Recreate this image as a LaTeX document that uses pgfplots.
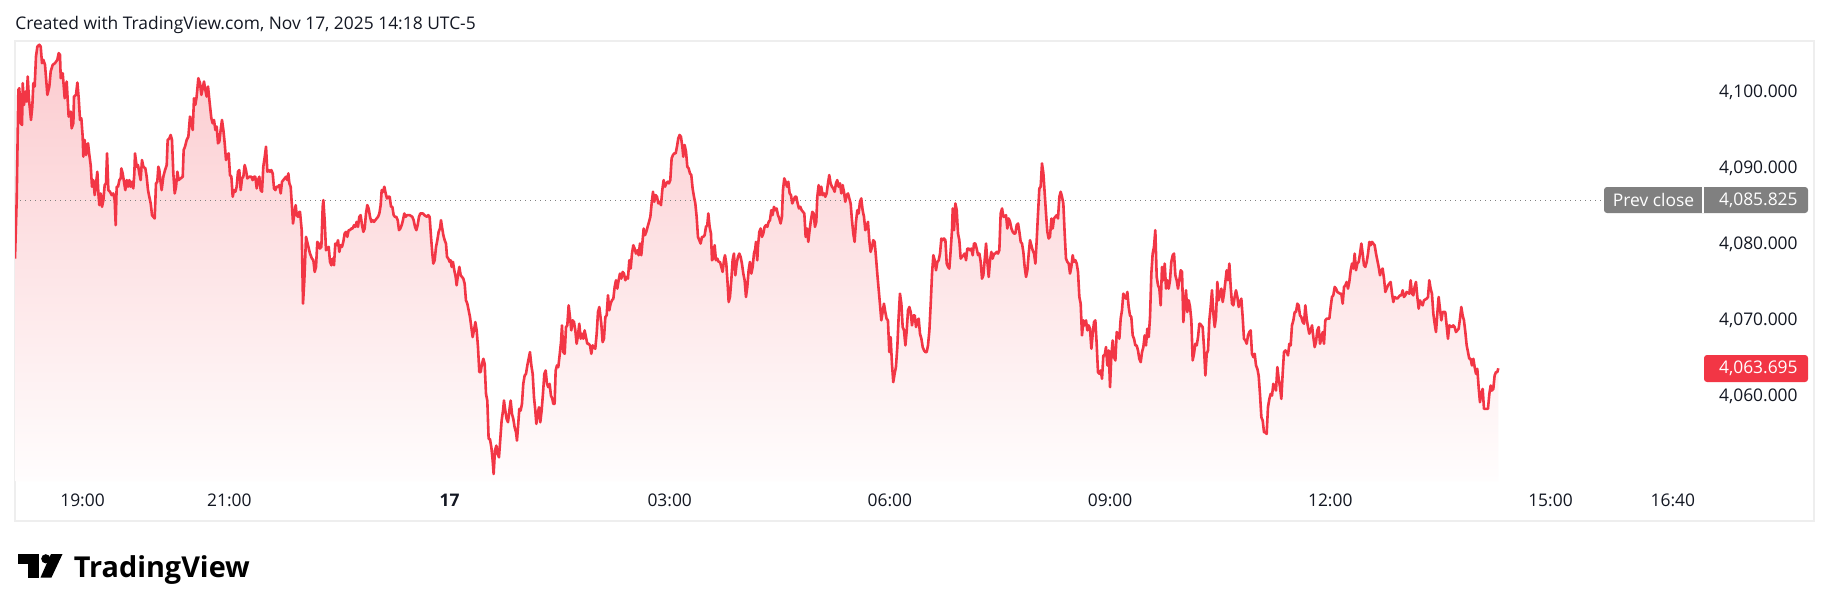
\documentclass[border=0pt]{standalone}
\usepackage{fontspec}
\setmainfont{Open Sans}
\usepackage{pgfplots}
\pgfplotsset{compat=1.18}
\usepackage{pgfplotstable}
\definecolor{tvred}{HTML}{F23645}
\definecolor{tvtext}{HTML}{131722}
\definecolor{tvgray}{HTML}{808080}
\definecolor{framegray}{HTML}{EEEEEE}
\pgfplotstableread{
t v
0.080 4078.15
0.103 4085.85
0.126 4100.37
0.139 4100.59
0.158 4095.97
0.176 4095.75
0.185 4101.25
0.203 4098.39
0.221 4100.15
0.239 4098.83
0.253 4102.13
0.271 4099.05
0.298 4096.41
0.316 4098.17
0.330 4101.25
0.348 4100.81
0.366 4104.77
0.385 4106.09
0.412 4106.31
0.430 4106.09
0.448 4103.89
0.466 4104.33
0.489 4103.67
0.521 4099.71
0.548 4100.81
0.566 4102.79
0.594 4103.67
0.625 4103.89
0.657 4104.33
0.675 4105.21
0.693 4104.99
0.703 4101.91
0.730 4102.57
0.757 4099.27
0.784 4101.47
0.811 4096.85
0.839 4097.51
0.852 4095.31
0.875 4095.97
0.884 4099.49
0.911 4099.71
0.930 4101.34
0.948 4099.27
0.966 4096.41
0.984 4096.63
1.002 4094.21
1.011 4091.57
1.029 4093.77
1.048 4091.79
1.075 4093.33
1.093 4091.79
1.111 4090.47
1.129 4087.61
1.148 4088.49
1.166 4086.51
1.184 4088.05
1.202 4089.59
1.216 4086.73
1.229 4085.19
1.247 4086.73
1.266 4084.97
1.284 4085.85
1.302 4087.83
1.320 4088.05
1.334 4092.01
1.352 4087.17
1.375 4086.95
1.397 4086.51
1.420 4086.73
1.438 4085.85
1.452 4082.55
1.465 4087.61
1.484 4087.61
1.502 4088.49
1.520 4088.71
1.529 4090.03
1.547 4089.37
1.565 4088.27
1.583 4087.17
1.602 4088.49
1.620 4087.61
1.638 4088.49
1.656 4087.61
1.674 4088.27
1.692 4087.39
1.706 4089.37
1.715 4092.01
1.738 4090.25
1.756 4090.47
1.774 4089.37
1.792 4088.49
1.810 4091.13
1.829 4090.25
1.856 4090.03
1.874 4088.93
1.892 4087.17
1.910 4086.29
1.929 4085.41
1.947 4083.87
1.965 4083.65
1.983 4083.43
2.001 4088.05
2.019 4088.27
2.033 4090.25
2.047 4089.81
2.060 4088.49
2.078 4087.17
2.101 4088.93
2.124 4089.81
2.147 4090.47
2.160 4093.77
2.183 4093.99
2.201 4094.43
2.219 4093.77
2.237 4089.37
2.256 4086.73
2.274 4087.61
2.292 4089.59
2.310 4088.49
2.337 4088.71
2.365 4088.93
2.378 4092.45
2.396 4092.89
2.419 4093.77
2.442 4094.21
2.464 4096.85
2.483 4095.97
2.501 4095.09
2.519 4099.27
2.537 4098.39
2.555 4099.49
2.578 4101.91
2.601 4101.25
2.619 4099.71
2.637 4100.59
2.655 4101.47
2.673 4100.37
2.691 4099.49
2.710 4100.81
2.728 4099.05
2.755 4096.63
2.773 4095.97
2.791 4096.41
2.810 4095.09
2.828 4095.53
2.846 4093.33
2.864 4093.55
2.882 4095.09
2.900 4096.41
2.919 4095.09
2.937 4093.33
2.955 4091.13
2.973 4091.79
2.991 4092.01
3.009 4089.15
3.028 4088.93
3.046 4086.29
3.064 4087.17
3.082 4086.95
3.100 4087.61
3.118 4089.59
3.136 4089.81
3.155 4087.17
3.173 4088.71
3.191 4088.93
3.209 4090.47
3.227 4089.81
3.245 4088.71
3.273 4088.93
3.300 4088.93
3.318 4088.49
3.336 4088.93
3.354 4088.93
3.373 4087.39
3.391 4088.49
3.409 4088.93
3.427 4087.17
3.445 4086.95
3.463 4090.25
3.486 4091.79
3.500 4092.89
3.518 4089.59
3.536 4089.81
3.554 4089.59
3.572 4089.81
3.591 4089.37
3.609 4087.39
3.627 4087.17
3.645 4087.61
3.663 4087.61
3.681 4087.83
3.700 4086.73
3.718 4088.27
3.736 4088.49
3.754 4088.71
3.772 4088.93
3.790 4088.49
3.804 4089.37
3.818 4088.05
3.836 4087.61
3.854 4084.97
3.868 4082.77
3.886 4084.09
3.904 4085.19
3.918 4083.87
3.936 4083.65
3.954 4084.31
3.963 4084.31
3.986 4081.89
4.004 4072.21
4.022 4075.29
4.045 4081.01
4.072 4079.91
4.099 4078.81
4.126 4078.15
4.145 4077.93
4.163 4076.39
4.181 4077.05
4.199 4080.35
4.217 4080.13
4.235 4079.47
4.254 4079.69
4.272 4084.97
4.281 4085.85
4.299 4083.21
4.317 4079.25
4.335 4079.47
4.354 4079.69
4.372 4077.71
4.390 4077.27
4.408 4078.15
4.426 4077.27
4.444 4080.13
4.463 4079.91
4.481 4080.57
4.499 4079.03
4.517 4079.91
4.535 4079.69
4.553 4080.35
4.571 4081.45
4.590 4081.67
4.608 4081.01
4.626 4081.89
4.644 4081.89
4.662 4082.11
4.680 4082.11
4.699 4082.55
4.717 4082.33
4.735 4082.99
4.753 4082.33
4.771 4083.65
4.789 4083.87
4.808 4082.55
4.826 4081.67
4.844 4082.11
4.862 4084.09
4.880 4085.19
4.898 4084.75
4.917 4083.65
4.935 4082.99
4.953 4083.21
4.971 4082.99
4.989 4083.21
5.007 4083.43
5.026 4083.65
5.044 4084.09
5.062 4085.19
5.076 4087.17
5.094 4086.95
5.112 4087.61
5.130 4086.73
5.148 4086.07
5.166 4086.29
5.185 4086.29
5.203 4084.97
5.221 4084.97
5.239 4083.87
5.257 4083.65
5.275 4083.65
5.294 4083.21
5.312 4081.89
5.330 4082.11
5.348 4082.55
5.366 4083.21
5.384 4084.09
5.403 4083.65
5.421 4083.87
5.457 4083.87
5.493 4083.65
5.511 4083.21
5.530 4082.33
5.548 4081.89
5.566 4082.55
5.584 4083.65
5.602 4084.09
5.639 4084.09
5.657 4083.87
5.693 4083.65
5.711 4083.87
5.729 4083.65
5.748 4081.01
5.766 4078.81
5.779 4077.49
5.798 4077.93
5.816 4079.69
5.834 4080.57
5.852 4081.67
5.870 4082.11
5.884 4083.21
5.897 4082.33
5.916 4081.23
5.934 4080.57
5.952 4080.13
5.966 4078.37
5.984 4078.15
6.002 4077.71
6.016 4077.93
6.029 4077.05
6.047 4077.71
6.065 4076.61
6.084 4075.73
6.097 4074.63
6.115 4075.95
6.134 4077.05
6.152 4075.95
6.170 4075.73
6.188 4075.51
6.206 4074.85
6.224 4072.65
6.243 4072.21
6.261 4071.33
6.279 4070.45
6.297 4069.13
6.315 4067.81
6.333 4068.69
6.352 4069.79
6.370 4068.69
6.388 4066.49
6.406 4063.19
6.424 4063.19
6.442 4064.29
6.461 4064.95
6.479 4064.29
6.497 4060.33
6.515 4059.45
6.533 4054.39
6.551 4054.39
6.570 4053.29
6.588 4051.53
6.601 4049.77
6.619 4052.85
6.638 4053.51
6.656 4052.41
6.674 4051.97
6.692 4054.39
6.710 4056.81
6.729 4058.13
6.742 4059.45
6.760 4058.13
6.778 4057.03
6.797 4056.59
6.815 4058.13
6.833 4059.45
6.851 4057.69
6.869 4057.03
6.887 4055.93
6.906 4055.27
6.919 4054.17
6.933 4055.93
6.951 4058.35
6.969 4058.13
6.987 4059.01
7.005 4061.65
7.024 4062.75
7.042 4062.97
7.060 4064.07
7.078 4064.95
7.096 4065.83
7.115 4064.07
7.133 4062.97
7.151 4059.89
7.169 4058.13
7.183 4056.37
7.201 4057.69
7.219 4058.57
7.237 4056.59
7.255 4058.13
7.273 4060.33
7.292 4062.97
7.310 4063.41
7.328 4061.65
7.346 4061.21
7.364 4061.65
7.382 4060.11
7.401 4059.67
7.414 4059.01
7.432 4059.01
7.446 4063.41
7.464 4064.07
7.482 4063.85
7.500 4065.39
7.519 4067.15
7.532 4069.35
7.550 4065.83
7.569 4065.61
7.587 4069.13
7.605 4069.35
7.623 4071.99
7.641 4070.45
7.659 4068.69
7.678 4070.01
7.696 4069.79
7.714 4068.69
7.732 4066.93
7.750 4068.03
7.768 4069.57
7.787 4067.59
7.805 4068.25
7.823 4067.59
7.841 4068.69
7.859 4067.81
7.877 4066.93
7.896 4066.93
7.914 4066.71
7.932 4065.61
7.950 4066.71
7.968 4066.49
7.986 4066.27
8.005 4068.25
8.023 4071.11
8.041 4071.77
8.068 4069.57
8.086 4067.15
8.104 4067.59
8.123 4070.45
8.141 4070.67
8.159 4073.31
8.177 4071.33
8.195 4072.21
8.213 4072.65
8.232 4072.87
8.250 4074.41
8.268 4075.29
8.286 4074.19
8.304 4075.29
8.322 4076.17
8.341 4075.51
8.359 4076.39
8.377 4076.17
8.395 4075.29
8.413 4075.73
8.431 4075.51
8.450 4077.93
8.468 4076.83
8.486 4078.81
8.504 4079.91
8.522 4079.47
8.540 4078.81
8.559 4079.25
8.577 4078.59
8.595 4080.13
8.613 4078.59
8.631 4080.57
8.645 4082.11
8.663 4081.23
8.681 4081.67
8.699 4082.33
8.718 4082.99
8.736 4083.65
8.754 4085.41
8.772 4086.95
8.790 4085.63
8.808 4086.51
8.827 4086.29
8.845 4085.41
8.863 4085.63
8.881 4085.19
8.899 4087.17
8.917 4088.49
8.936 4087.61
8.954 4088.05
8.972 4088.27
8.990 4088.05
9.008 4088.49
9.026 4091.35
9.044 4091.79
9.063 4092.01
9.081 4092.01
9.099 4092.89
9.117 4093.99
9.135 4094.43
9.153 4094.21
9.172 4092.89
9.185 4091.57
9.203 4093.11
9.222 4092.23
9.240 4090.25
9.258 4090.03
9.276 4089.37
9.294 4089.15
9.312 4087.39
9.331 4086.29
9.349 4085.41
9.367 4083.65
9.385 4081.01
9.403 4080.57
9.421 4080.13
9.440 4081.01
9.458 4081.01
9.476 4081.23
9.494 4082.33
9.512 4082.55
9.526 4084.09
9.544 4082.33
9.562 4081.45
9.576 4077.93
9.594 4078.15
9.612 4079.91
9.630 4077.93
9.648 4078.15
9.667 4077.71
9.685 4077.71
9.703 4077.05
9.721 4076.39
9.739 4077.93
9.753 4078.59
9.771 4077.49
9.789 4074.85
9.803 4072.43
9.821 4073.09
9.839 4075.29
9.857 4077.93
9.875 4078.81
9.894 4075.95
9.912 4077.49
9.930 4078.37
9.948 4078.81
9.966 4078.37
9.984 4077.49
10.003 4076.17
10.021 4075.29
10.039 4073.09
10.057 4074.41
10.075 4076.61
10.093 4077.71
10.112 4076.17
10.130 4077.05
10.148 4078.81
10.166 4079.47
10.175 4080.35
10.193 4077.93
10.202 4079.69
10.221 4081.67
10.239 4082.11
10.257 4081.01
10.275 4081.45
10.293 4082.33
10.311 4082.55
10.330 4082.33
10.348 4082.99
10.366 4083.21
10.384 4084.53
10.402 4083.87
10.420 4084.97
10.439 4084.53
10.457 4084.75
10.475 4083.87
10.493 4083.43
10.511 4082.77
10.529 4083.65
10.543 4087.17
10.561 4088.71
10.579 4088.27
10.598 4087.61
10.616 4088.27
10.634 4086.73
10.652 4086.51
10.670 4085.41
10.688 4085.85
10.707 4086.29
10.725 4086.29
10.743 4085.41
10.761 4084.75
10.779 4084.97
10.797 4084.53
10.816 4084.31
10.834 4084.09
10.852 4081.01
10.870 4082.11
10.888 4080.35
10.906 4081.89
10.924 4083.21
10.943 4084.31
10.961 4084.09
10.979 4082.33
10.997 4082.99
11.011 4086.29
11.029 4087.83
11.047 4086.51
11.065 4087.61
11.083 4086.51
11.102 4086.73
11.120 4086.29
11.138 4086.73
11.156 4088.05
11.174 4089.15
11.192 4088.05
11.211 4087.61
11.229 4087.39
11.247 4086.95
11.265 4088.05
11.283 4088.49
11.301 4087.61
11.320 4088.05
11.338 4086.73
11.356 4087.83
11.374 4086.95
11.392 4085.63
11.410 4086.51
11.429 4086.73
11.447 4086.07
11.465 4085.41
11.483 4083.21
11.501 4081.45
11.519 4080.35
11.538 4082.99
11.556 4084.53
11.574 4084.09
11.592 4085.63
11.610 4086.07
11.628 4084.53
11.647 4083.65
11.665 4081.89
11.683 4082.33
11.701 4082.99
11.719 4080.57
11.737 4079.03
11.756 4079.69
11.774 4080.57
11.792 4080.35
11.810 4078.37
11.828 4076.17
11.846 4074.19
11.864 4072.21
11.883 4070.01
11.901 4071.11
11.919 4072.21
11.937 4071.11
11.955 4070.23
11.973 4070.01
11.992 4065.83
12.010 4067.81
12.028 4064.29
12.046 4061.87
12.064 4062.97
12.082 4063.85
12.101 4066.49
12.119 4070.45
12.137 4073.53
12.156 4072.21
12.174 4069.13
12.192 4068.69
12.211 4066.71
12.229 4068.69
12.247 4071.33
12.265 4071.77
12.283 4071.11
12.301 4069.35
12.320 4070.67
12.338 4070.67
12.356 4069.13
12.374 4070.01
12.392 4070.23
12.410 4068.25
12.429 4067.59
12.447 4066.49
12.465 4066.05
12.483 4065.83
12.501 4065.83
12.519 4066.71
12.538 4068.69
12.556 4072.21
12.574 4076.17
12.592 4078.59
12.610 4077.93
12.628 4076.61
12.647 4077.71
12.665 4077.93
12.683 4078.81
12.701 4080.79
12.719 4080.57
12.737 4080.79
12.756 4080.57
12.774 4077.49
12.792 4077.05
12.810 4076.83
12.828 4079.25
12.846 4081.89
12.856 4084.75
12.874 4081.89
12.892 4085.41
12.910 4084.53
12.928 4081.45
12.946 4080.57
12.964 4078.15
12.983 4078.37
13.001 4078.59
13.019 4078.81
13.037 4077.93
13.055 4079.47
13.073 4079.47
13.092 4079.25
13.110 4079.47
13.128 4078.59
13.146 4080.13
13.164 4080.13
13.182 4079.47
13.201 4078.59
13.219 4078.81
13.237 4077.71
13.255 4075.51
13.273 4075.95
13.291 4077.93
13.310 4080.13
13.328 4077.71
13.346 4075.73
13.364 4077.93
13.382 4079.03
13.400 4078.15
13.419 4078.81
13.437 4078.81
13.455 4079.03
13.473 4078.81
13.491 4079.25
13.509 4084.09
13.528 4084.75
13.546 4083.65
13.564 4083.65
13.582 4083.87
13.600 4082.11
13.618 4083.43
13.637 4082.99
13.655 4082.11
13.673 4081.67
13.691 4081.45
13.709 4081.45
13.727 4082.55
13.746 4082.77
13.764 4081.67
13.782 4080.35
13.800 4080.13
13.818 4079.03
13.836 4077.05
13.855 4075.73
13.873 4076.61
13.891 4078.81
13.909 4080.57
13.927 4079.91
13.945 4079.25
13.964 4078.81
13.982 4077.49
14.000 4080.57
14.018 4084.09
14.036 4087.39
14.054 4087.61
14.072 4090.69
14.091 4089.37
14.109 4086.73
14.127 4084.09
14.145 4081.67
14.163 4080.79
14.181 4081.01
14.200 4083.43
14.218 4082.11
14.236 4083.43
14.254 4083.65
14.272 4083.87
14.290 4083.43
14.309 4086.29
14.327 4086.95
14.345 4086.29
14.363 4085.41
14.381 4081.45
14.399 4078.15
14.418 4077.71
14.436 4077.49
14.454 4076.17
14.472 4077.05
14.490 4078.59
14.508 4077.71
14.527 4077.93
14.545 4077.49
14.563 4076.39
14.581 4073.09
14.599 4072.21
14.617 4068.03
14.636 4070.01
14.654 4069.35
14.672 4070.01
14.690 4068.69
14.708 4069.35
14.726 4068.91
14.745 4066.27
14.763 4068.25
14.781 4069.79
14.799 4070.01
14.817 4066.93
14.835 4063.19
14.854 4062.97
14.872 4063.41
14.890 4062.31
14.908 4065.39
14.926 4065.39
14.944 4066.49
14.963 4064.07
14.981 4066.05
14.999 4061.21
15.017 4065.39
15.035 4067.37
15.053 4065.17
15.072 4064.73
15.090 4068.47
15.108 4068.25
15.126 4067.59
15.144 4070.23
15.162 4071.33
15.180 4073.53
15.199 4073.09
15.217 4072.87
15.235 4073.75
15.253 4071.77
15.271 4070.67
15.289 4070.45
15.308 4068.03
15.326 4067.59
15.344 4066.71
15.362 4066.71
15.380 4066.05
15.398 4064.95
15.417 4064.51
15.435 4065.83
15.453 4066.49
15.471 4068.03
15.489 4066.71
15.507 4068.91
15.526 4067.81
15.544 4070.45
15.562 4076.17
15.580 4078.81
15.598 4079.69
15.616 4081.89
15.635 4075.73
15.653 4074.63
15.671 4074.19
15.689 4071.99
15.707 4077.05
15.725 4075.29
15.744 4077.49
15.762 4074.19
15.780 4075.29
15.798 4074.19
15.816 4075.29
15.834 4077.71
15.853 4078.59
15.871 4078.81
15.889 4075.95
15.907 4075.29
15.925 4074.19
15.943 4075.29
15.962 4076.61
15.980 4076.39
15.998 4069.79
16.016 4072.21
16.034 4073.97
16.052 4071.11
16.071 4072.65
16.089 4071.77
16.107 4070.01
16.125 4064.73
16.143 4065.61
16.161 4066.93
16.180 4066.71
16.198 4067.81
16.216 4069.57
16.225 4069.57
16.243 4069.35
16.261 4069.13
16.279 4066.49
16.298 4062.75
16.316 4065.61
16.334 4066.05
16.352 4070.01
16.370 4071.77
16.388 4073.97
16.407 4070.89
16.425 4069.13
16.443 4070.45
16.461 4075.07
16.479 4072.65
16.497 4073.53
16.516 4074.19
16.534 4072.43
16.552 4073.53
16.570 4075.07
16.588 4076.61
16.606 4075.29
16.625 4077.49
16.643 4074.41
16.661 4072.21
16.679 4071.99
16.697 4073.09
16.715 4073.97
16.734 4073.09
16.752 4071.77
16.770 4072.43
16.788 4072.87
16.806 4070.45
16.824 4067.59
16.843 4067.37
16.861 4066.93
16.879 4068.03
16.897 4068.47
16.915 4068.69
16.933 4065.61
16.952 4065.17
16.970 4065.61
16.988 4064.07
17.006 4063.63
17.024 4062.75
17.042 4060.33
17.061 4057.25
17.079 4056.81
17.097 4055.27
17.115 4055.27
17.133 4055.05
17.151 4058.57
17.170 4059.67
17.188 4060.33
17.206 4060.11
17.224 4061.65
17.242 4061.21
17.260 4060.77
17.279 4063.85
17.297 4062.31
17.315 4061.21
17.333 4059.67
17.351 4062.97
17.369 4065.83
17.388 4066.05
17.406 4065.83
17.424 4065.39
17.442 4066.93
17.460 4066.71
17.478 4069.35
17.497 4070.01
17.515 4071.11
17.533 4071.11
17.551 4072.21
17.569 4071.99
17.587 4070.67
17.605 4070.45
17.624 4069.79
17.642 4069.57
17.660 4071.99
17.678 4070.23
17.696 4069.13
17.714 4068.25
17.733 4068.69
17.751 4069.35
17.769 4067.81
17.787 4066.49
17.805 4067.15
17.823 4068.69
17.842 4069.13
17.860 4066.93
17.878 4067.59
17.896 4068.47
17.914 4066.93
17.932 4070.01
17.951 4070.23
17.987 4070.23
18.005 4071.77
18.023 4073.09
18.041 4073.31
18.060 4074.41
18.078 4074.19
18.096 4073.75
18.132 4073.53
18.150 4073.53
18.169 4072.21
18.187 4074.41
18.205 4074.63
18.223 4075.07
18.241 4074.19
18.259 4075.07
18.278 4076.61
18.296 4077.49
18.314 4076.83
18.332 4078.81
18.350 4076.61
18.368 4077.49
18.387 4077.71
18.405 4078.81
18.423 4080.13
18.441 4078.81
18.459 4077.27
18.477 4077.05
18.496 4077.71
18.514 4078.81
18.532 4080.35
18.550 4079.91
18.568 4080.35
18.586 4080.13
18.604 4079.91
18.623 4078.81
18.641 4077.93
18.659 4077.05
18.677 4075.95
18.695 4076.61
18.713 4076.83
18.732 4075.51
18.750 4073.75
18.768 4074.19
18.786 4074.63
18.804 4074.85
18.822 4075.07
18.841 4073.53
18.859 4072.43
18.877 4073.09
18.913 4072.87
18.950 4073.31
18.968 4073.31
18.986 4073.97
19.004 4073.09
19.022 4073.31
19.040 4073.75
19.077 4073.53
19.095 4075.29
19.113 4073.53
19.131 4073.31
19.149 4074.41
19.167 4075.07
19.186 4073.09
19.204 4071.55
19.222 4072.65
19.240 4072.21
19.258 4071.99
19.276 4072.65
19.313 4072.87
19.331 4073.09
19.349 4075.29
19.367 4074.19
19.385 4073.53
19.404 4070.89
19.422 4069.57
19.440 4068.47
19.458 4070.89
19.476 4073.09
19.494 4071.55
19.513 4070.01
19.531 4071.11
19.567 4071.11
19.585 4069.35
19.603 4067.59
19.622 4069.35
19.658 4069.13
19.676 4069.35
19.694 4069.13
19.712 4068.47
19.749 4068.91
19.767 4070.23
19.785 4071.77
19.803 4070.67
19.821 4070.01
19.840 4068.47
19.858 4066.71
19.876 4065.83
19.894 4064.95
19.912 4064.95
19.930 4064.07
19.949 4064.95
19.967 4063.85
19.985 4062.97
20.003 4063.63
20.021 4061.21
20.039 4059.23
20.058 4060.33
20.076 4060.99
20.094 4058.35
20.148 4058.35
20.167 4060.33
20.185 4061.43
20.203 4060.77
20.221 4060.99
20.239 4062.75
20.257 4063.19
20.276 4063.19
20.289 4063.695
}\pricedata
\newcommand{\tvfont}{\fontsize{8.7pt}{10pt}\selectfont}
\begin{document}
\begin{tikzpicture}
\begin{scope}[x=0.5pt,y=-0.5pt]
\fill[white] (0,0) rectangle (1830,611);
\useasboundingbox (0,0) rectangle (1830,611);
\draw[framegray, line width=1pt] (15,41) rectangle (1814,521);
\node[anchor=base west, inner sep=0pt, font=\tvfont, text=tvtext] at (15,29.2) {Created with TradingView.com, Nov 17, 2025 14:18 UTC-5};
\end{scope}
\begin{axis}[
  at={(7.5pt,-240.5pt)}, anchor=south west,
  scale only axis, width=844pt, height=220pt,
  xmin=0.080, xmax=23.078, ymin=4048.85, ymax=4106.81,
  axis line style={draw=none}, major tick length=0pt, tick style={draw=none},
  xtick={1,3,6,9,12,15,18,21,22.6667},
  xticklabels={19:00,21:00,\textbf{17},03:00,06:00,09:00,12:00,15:00,16:40},
  ytick={4060,4070,4080,4090,4100},
  yticklabels={{4,060.000},{4,070.000},{4,080.000},{4,090.000},{4,100.000}},
  yticklabel pos=right,
  yticklabel style={anchor=east, inner sep=0pt, xshift=47.5pt, font=\tvfont, text=tvtext},
  xticklabel style={anchor=center, inner sep=0pt, yshift=-9.85pt, font=\tvfont, text=tvtext},
]
\addplot[draw=none, top color=tvred!26!white, bottom color=tvred!1!white] table[x=t,y=v]{\pricedata} -- (axis cs:20.289,4048.85) -- (axis cs:0.080,4048.85) -- cycle;
\addplot[tvgray, line width=0.5pt, dash pattern=on 0.5pt off 2pt] coordinates {(0.15,4085.825) (21.73,4085.825)};
\addplot[tvred, line width=1.3pt, line join=round] table[x=t,y=v]{\pricedata};
\end{axis}
\begin{scope}[x=0.5pt,y=-0.5pt]
\fill[tvgray, rounded corners=1.5pt] (1604,187) rectangle (1808,213);
\draw[white, line width=0.6pt] (1703,187) -- (1703,213);
\node[anchor=center, inner sep=0pt, font=\tvfont, text=white] at (1653.5,200.3) {Prev close};
\node[anchor=east, inner sep=0pt, font=\tvfont, text=white] at (1798,200.3) {4,085.825};
\fill[tvred, rounded corners=1.5pt] (1704,355) rectangle (1808,382);
\node[anchor=east, inner sep=0pt, font=\tvfont, text=white] at (1798,368.5) {4,063.695};
% logo
\fill[black] (17.5,554) rectangle (39,563.5);
\fill[black] (28,554) rectangle (39,577.5);
\fill[black] (45.8,558.8) circle (4.6);
\fill[black] (51,554) -- (62.5,554) -- (51.5,577.5) -- (40.5,577.5) -- cycle;
\node[anchor=base west, inner sep=0pt, font=\fontsize{14.4pt}{16pt}\selectfont\bfseries, text=black] at (73.5,577) {TradingView};
\end{scope}
\end{tikzpicture}
\end{document}
